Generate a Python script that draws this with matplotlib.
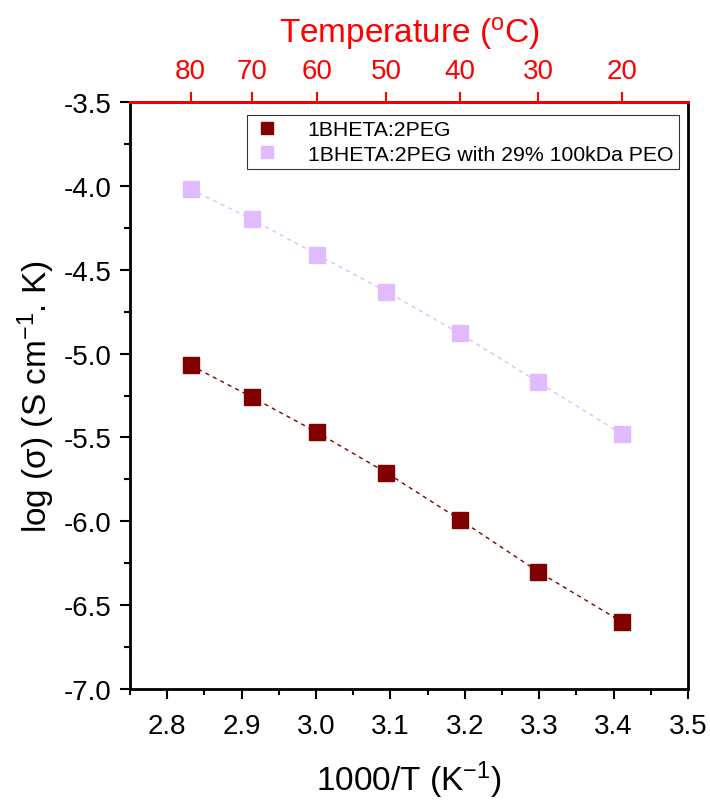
import matplotlib.pyplot as plt
import numpy as np

plt.rcParams['font.family'] = ['Liberation Sans', 'DejaVu Sans']
plt.rcParams['mathtext.fontset'] = 'custom'
plt.rcParams['mathtext.rm'] = 'Liberation Sans'
plt.rcParams['mathtext.it'] = 'Liberation Sans:italic'
plt.rcParams['mathtext.default'] = 'regular'

temps_c = [80, 70, 60, 50, 40, 30, 20]
inv_t = [1000.0 / (t + 273.15) for t in temps_c]
logs_plain = [-5.07, -5.26, -5.47, -5.71, -5.99, -6.30, -6.60]
logs_peo = [-4.02, -4.20, -4.41, -4.63, -4.88, -5.17, -5.48]

dark = '#800000'
light = '#e0bbff'

fig = plt.figure(figsize=(7.1, 8.03), dpi=100)
ax = fig.add_axes([0.183, 0.1407, 0.786, 0.731])

ax.plot(inv_t, logs_plain, ls=(0, (3, 3)), lw=1.0, color=dark)
ax.plot(inv_t, logs_peo, ls=(0, (3, 3)), lw=1.0, color=light)
ax.plot(inv_t, logs_plain, ls='none', marker='s', ms=11, color=dark, label='1BHETA:2PEG')
ax.plot(inv_t, logs_peo, ls='none', marker='s', ms=11, color=light, label='1BHETA:2PEG with 29% 100kDa PEO')

ax.set_xlim(2.75, 3.5)
ax.set_ylim(-7.0, -3.5)
ax.set_xticks(np.arange(2.8, 3.51, 0.1))
ax.set_xticks(np.arange(2.75, 3.51, 0.05), minor=True)
ax.set_yticks(np.arange(-7.0, -3.49, 0.5))
ax.set_yticks(np.arange(-7.0, -3.49, 0.25), minor=True)
ax.xaxis.set_major_formatter(plt.FormatStrFormatter('%.1f'))
ax.yaxis.set_major_formatter(plt.FormatStrFormatter('%.1f'))
ax.tick_params(which='major', direction='out', length=7, width=1.5, labelsize=20, pad=6)
ax.tick_params(which='minor', direction='out', length=4, width=1.5)
ax.tick_params(axis='x', which='both', top=False, pad=10)
ax.tick_params(axis='y', which='both', right=False)
for s in ax.spines.values():
    s.set_linewidth(2)

ax.set_xlabel('1000/T (K$^{-1}$)', fontsize=24, labelpad=14)
ax.set_ylabel('log (σ) (S cm$^{-1}$. K)', fontsize=24, labelpad=5)

ax2 = ax.twiny()
ax2.set_xlim(ax.get_xlim())
ax2.set_xticks(inv_t)
ax2.set_xticklabels([str(t) for t in temps_c])
ax2.tick_params(axis='x', colors='red', direction='out', length=7, width=1.5, labelsize=20, pad=6)
ax2.spines['top'].set_color('red')
ax2.spines['top'].set_linewidth(2)
ax2.set_xlabel('Temperature ($^{o}$C)', fontsize=24, color='red', labelpad=12)

leg = ax.legend(loc='upper right', bbox_to_anchor=(0.983, 0.978), fontsize=15.3,
                frameon=True, fancybox=False, edgecolor='black', borderpad=0.25,
                labelspacing=0.25, handlelength=1.4, handletextpad=1.2, markerscale=0.85,
                borderaxespad=0)
leg.get_frame().set_linewidth(0.8)

fig.savefig('out.png', dpi=100)
